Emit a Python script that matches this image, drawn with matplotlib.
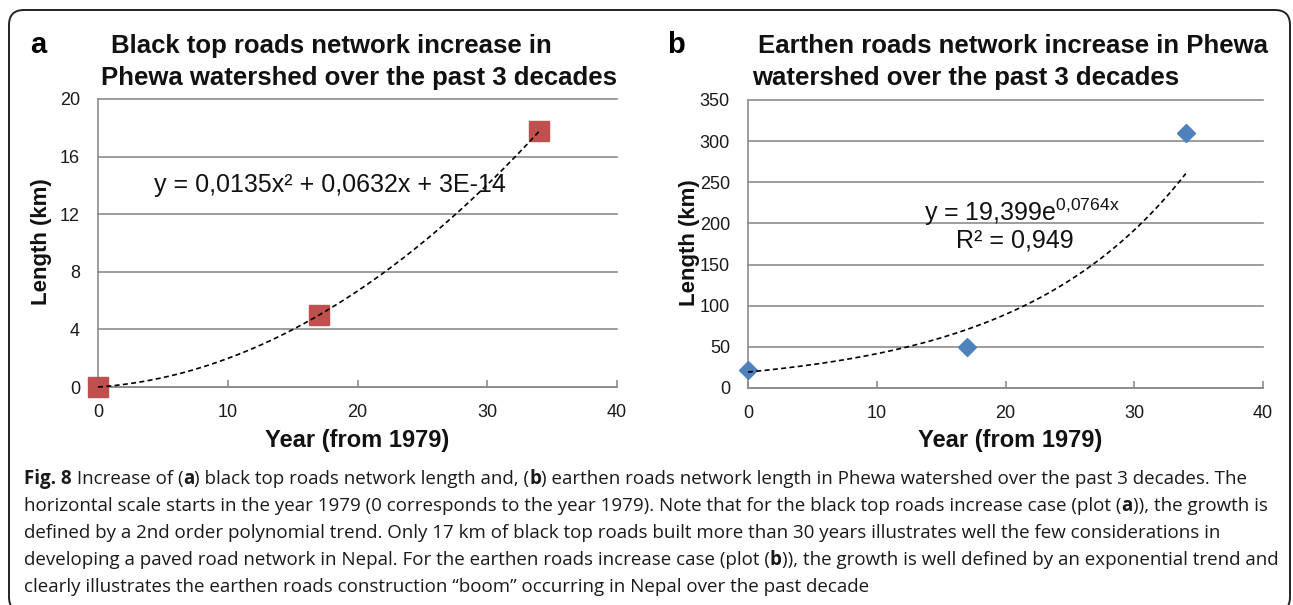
import numpy as np
import matplotlib
matplotlib.use("Agg")
import matplotlib.pyplot as plt
from matplotlib.patches import FancyBboxPatch
from matplotlib.transforms import IdentityTransform

plt.rcParams['font.family'] = ['Liberation Sans', 'DejaVu Sans']
plt.rcParams['mathtext.fontset'] = 'custom'
plt.rcParams['mathtext.rm'] = 'Liberation Sans'
plt.rcParams['mathtext.it'] = 'Liberation Sans:italic'
plt.rcParams['mathtext.bf'] = 'Liberation Sans:bold'

W, H, DPI = 1293, 605, 100

# ---- data -------------------------------------------------------------
years_black = [0, 17, 34]
length_black = [0.0, 5.0, 17.8]
years_earth = [0, 17, 34]
length_earth = [22.0, 50.0, 310.0]

# fitted trend coefficients (as printed on the panels)
poly_c2, poly_c1, poly_c0 = 0.0135, 0.0632, 3e-14
exp_amp, exp_rate = 19.399, 0.0764
r2_earth = "0,949"

x_ticks = [0, 10, 20, 30, 40]
y_ticks_black = [0, 4, 8, 12, 16, 20]
y_ticks_earth = [0, 50, 100, 150, 200, 250, 300, 350]

title_a = ["Black top roads network increase in",
           "Phewa watershed over the past 3 decades"]
title_b = ["Earthen roads network increase in Phewa",
           "watershed over the past 3 decades"]
x_label = "Year (from 1979)"
y_label = "Length (km)"

caption_lines = [
    [("Fig. 8", True), (" Increase of (", False), ("a", True),
     (") black top roads network length and, (", False), ("b", True),
     (") earthen roads network length in Phewa watershed over the past 3 decades. The", False)],
    [("horizontal scale starts in the year 1979 (0 corresponds to the year 1979). "
      "Note that for the black top roads increase case (plot (", False), ("a", True),
     (")), the growth is", False)],
    [("defined by a 2nd order polynomial trend. Only 17 km of black top roads built more "
      "than 30 years illustrates well the few considerations in", False)],
    [("developing a paved road network in Nepal. For the earthen roads increase case (plot (", False),
     ("b", True), (")), the growth is well defined by an exponential trend and", False)],
    [("clearly illustrates the earthen roads construction \u201cboom\u201d occurring in Nepal "
      "over the past decade", False)],
]

RED = "#C0504D"
BLUE = "#4F81BD"
GRID = "#8c8c8c"

fig = plt.figure(figsize=(W / DPI, H / DPI), dpi=DPI)
fig.patch.set_facecolor("white")


def px_axes(x0, x1, y0, y1):
    """Axes placed by pixel bounds measured from the top-left corner."""
    return fig.add_axes([x0 / W, (H - y1) / H, (x1 - x0) / W, (y1 - y0) / H])


def fx(px):
    return px / W


def fy(py):
    return 1 - py / H


def style_axes(ax, yticks):
    ax.set_xlim(x_ticks[0], x_ticks[-1])
    ax.set_ylim(yticks[0], yticks[-1])
    ax.set_xticks(x_ticks)
    ax.set_yticks(yticks)
    for s in ("top", "right"):
        ax.spines[s].set_visible(False)
    for s in ("left", "bottom"):
        ax.spines[s].set_color(GRID)
        ax.spines[s].set_linewidth(1.2)
    ax.grid(axis="y", color=GRID, linewidth=1.2)
    ax.set_axisbelow(True)
    ax.tick_params(axis="x", direction="in", length=5, width=1.2, color=GRID,
                   pad=12, labelsize=13, labelcolor="#1a1a1a")
    ax.tick_params(axis="y", length=0, pad=13, labelsize=13, labelcolor="#1a1a1a")
    for gl in ax.get_ygridlines():
        gl.set_clip_on(False)


# ---- panel a: black top roads -----------------------------------------
ax_a = px_axes(98, 617, 99, 387)
style_axes(ax_a, y_ticks_black)
xs_a = np.linspace(0, years_black[-1], 200)
ax_a.plot(xs_a, poly_c2 * xs_a**2 + poly_c1 * xs_a + poly_c0, color="black",
          lw=1.2, linestyle=(0, (3, 2)), zorder=4, clip_on=False)
ax_a.plot(years_black, length_black, linestyle="none", marker="s", ms=14.5,
          mfc=RED, mec=RED, zorder=3, clip_on=False)
ax_a.text(17.9, 14.0, "y = 0,0135x\u00b2 + 0,0632x + 3E-14", fontsize=18,
          ha="center", va="center", color="#111111", zorder=5)

# ---- panel b: earthen roads -------------------------------------------
ax_b = px_axes(748, 1263, 100, 388)
style_axes(ax_b, y_ticks_earth)
xs_b = np.linspace(0, years_earth[-1], 200)
ax_b.plot(xs_b, exp_amp * np.exp(exp_rate * xs_b), color="black",
          lw=1.2, linestyle=(0, (3, 2)), zorder=4, clip_on=False)
ax_b.plot(years_earth, length_earth, linestyle="none", marker="D", ms=9.5,
          mfc=BLUE, mec=BLUE, zorder=3, clip_on=False)
ax_b.text(21.3, 214, r"y = 19,399e$^{\mathrm{0{,}0764x}}$", fontsize=18,
          ha="center", va="center", color="#111111", zorder=5)
ax_b.text(20.7, 179, "R\u00b2 = " + r2_earth, fontsize=18,
          ha="center", va="center", color="#111111", zorder=5)

# ---- titles, panel letters, axis labels -------------------------------
title_kw = dict(fontsize=18.5, fontweight="bold", va="baseline", ha="left", color="#111111")
fig.text(fx(111), fy(53), title_a[0], **title_kw)
fig.text(fx(101), fy(85), title_a[1], **title_kw)
fig.text(fx(758), fy(53), title_b[0], **title_kw)
fig.text(fx(752), fy(85), title_b[1], **title_kw)
fig.text(fx(30), fy(53), "a", fontsize=21, fontweight="bold", va="baseline", ha="left")
fig.text(fx(667), fy(53), "b", fontsize=21, fontweight="bold", va="baseline", ha="left")

fig.text(fx(357), fy(440), x_label, fontsize=17, fontweight="bold",
         ha="center", va="center", color="#111111")
fig.text(fx(1010), fy(440), x_label, fontsize=17, fontweight="bold",
         ha="center", va="center", color="#111111")
ylab_kw = dict(fontsize=16, fontweight="bold", ha="center", va="center",
               rotation=90, color="#111111")
fig.text(fx(42), fy(242), y_label, **ylab_kw)
fig.text(fx(689), fy(243), y_label, **ylab_kw)

# ---- caption ------------------------------------------------------------
renderer = fig.canvas.get_renderer()
CAP_FONT = "Open Sans"


def seg_width(txt, bold, size):
    """Advance width of a text run, trailing/leading spaces included."""
    def w(s):
        t = fig.text(0, 0, s, fontsize=size, family=CAP_FONT,
                     fontweight="bold" if bold else "normal")
        bb = t.get_window_extent(renderer)
        t.remove()
        return bb.width
    return w("|" + txt + "|") - w("||")


def line_width(parts, size):
    return sum(seg_width(t, b, size) for t, b in parts)


cap_left, cap_right_first = 24, 1245
base = 12.0
cap_size = base * (cap_right_first - cap_left) / line_width(caption_lines[0], base)

cap_baselines = [484, 511, 538, 565, 592]
for parts, base_y in zip(caption_lines, cap_baselines):
    x = cap_left
    for txt, bold in parts:
        fig.text(fx(x), fy(base_y), txt, fontsize=cap_size, family=CAP_FONT,
                 fontweight="bold" if bold else "normal", va="baseline",
                 ha="left", color="#1a1a1a")
        x += seg_width(txt, bold, cap_size)

# ---- rounded frame around the whole figure ------------------------------
frame = FancyBboxPatch((9, H - 612), 1281, 612 - 10,
                       boxstyle="round,pad=0,rounding_size=15",
                       transform=IdentityTransform(), fill=False,
                       edgecolor="#222222", linewidth=1.4)
fig.patches.append(frame)

fig.savefig("out.png", dpi=DPI, facecolor="white")
